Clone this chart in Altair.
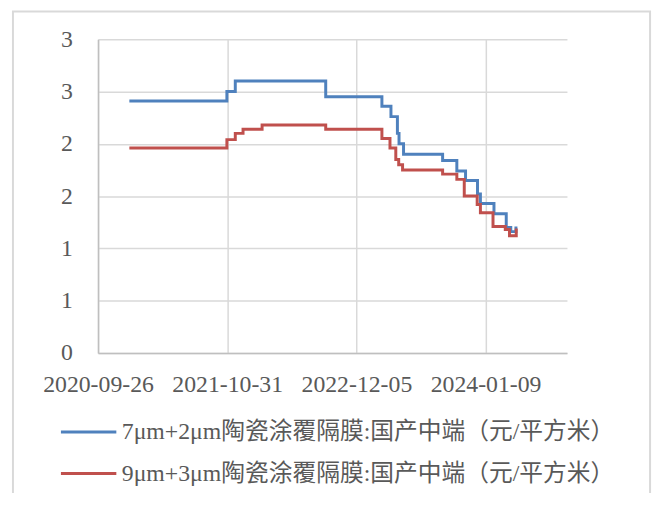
import altair as alt
import pandas as pd

series_names = [
    "7μm+2μm陶瓷涂覆隔膜:国产中端（元/平方米）",
    "9μm+3μm陶瓷涂覆隔膜:国产中端（元/平方米）",
]
series_colors = ["#4F81BD", "#C0504D"]

blue_dates = ["2021-01-01", "2021-10-30", "2021-11-25", "2022-09-01", "2023-02-22",
              "2023-03-22", "2023-04-11", "2023-04-16", "2023-04-30", "2023-08-29",
              "2023-10-12", "2023-11-08", "2023-12-15", "2023-12-24", "2024-02-04",
              "2024-03-13", "2024-03-27", "2024-04-12"]
blue_values = [2.41, 2.50, 2.60, 2.45, 2.36,
               2.26, 2.10, 2.00, 1.90, 1.84,
               1.74, 1.65, 1.52, 1.43, 1.33,
               1.20, 1.16, 1.21]

red_dates = ["2021-01-01", "2021-10-30", "2021-11-25", "2021-12-19", "2022-02-16",
             "2022-09-01", "2023-02-22", "2023-03-19", "2023-04-06", "2023-04-15",
             "2023-04-27", "2023-08-29", "2023-10-12", "2023-11-04", "2023-12-14",
             "2023-12-24", "2024-02-01", "2024-03-10", "2024-03-23", "2024-04-13"]
red_values = [1.96, 2.04, 2.10, 2.14, 2.18,
              2.14, 2.05, 1.96, 1.85, 1.80,
              1.75, 1.71, 1.66, 1.50, 1.42,
              1.34, 1.21, 1.18, 1.12, 1.19]

x_tick_dates = [(2020, 9, 26), (2021, 10, 31), (2022, 12, 5), (2024, 1, 9)]
x_domain = [(2020, 9, 26), (2024, 9, 17)]
y_ticks = [0, 0.5, 1, 1.5, 2, 2.5, 3]
y_tick_labels = ["0", "1", "1", "2", "2", "3", "3"]

rows = []
for d, v in zip(blue_dates, blue_values):
    rows.append({"date": d, "value": v, "series": series_names[0]})
for d, v in zip(red_dates, red_values):
    rows.append({"date": d, "value": v, "series": series_names[1]})
df = pd.DataFrame(rows)

def dt(t):
    return alt.DateTime(year=t[0], month=t[1], date=t[2], utc=True)

font = "Liberation Serif, Noto Sans CJK SC"
txt = "#595959"
grid = "#D9D9D9"
fs = 24

label_expr = "[" + ",".join("'" + s + "'" for s in y_tick_labels) + "][indexof([" + \
    ",".join(str(v) for v in y_ticks) + "], datum.value)]"

lines = alt.Chart(df).mark_line(interpolate="step-after", strokeWidth=3).encode(
    x=alt.X("date:T",
            scale=alt.Scale(type="utc", domain=[dt(x_domain[0]), dt(x_domain[1])]),
            axis=alt.Axis(values=[dt(t) for t in x_tick_dates], format="%Y-%m-%d",
                          title=None, grid=True, gridColor=grid, gridWidth=1.5,
                          ticks=False, tickSize=0, labelPadding=20,
                          labelFontSize=fs, labelFont=font, labelColor=txt,
                          domainColor="#BFBFBF", domainWidth=1.5,
                          labelOverlap=False, labelFlush=False)),
    y=alt.Y("value:Q",
            scale=alt.Scale(domain=[0, 3], nice=False, zero=True),
            axis=alt.Axis(values=y_ticks, labelExpr=label_expr, title=None,
                          grid=True, gridColor=grid, gridWidth=1.5,
                          ticks=False, tickSize=0, labelPadding=26,
                          labelFontSize=fs, labelFont=font, labelColor=txt,
                          domainColor="#BFBFBF", domainWidth=1.5,
                          labelOverlap=False, labelFlush=False)),
    color=alt.Color("series:N",
                    scale=alt.Scale(domain=series_names, range=series_colors),
                    legend=alt.Legend(title=None, orient="none", legendX=-39, legendY=385,
                                      direction="vertical", symbolType="stroke",
                                      symbolSize=3136, symbolStrokeWidth=3,
                                      clipHeight=fs, rowPadding=42 - fs, labelOffset=4,
                                      labelFontSize=fs, labelFont=font, labelColor=txt,
                                      labelLimit=0, padding=0)),
    detail="series:N",
)

border = alt.Chart(pd.DataFrame({"b": [0]})).mark_rect(
    fill=None, stroke="#D9D9D9", strokeWidth=2
).encode(
    x=alt.value(-86), x2=alt.value(558), y=alt.value(-28), y2=alt.value(520)
)

chart = alt.layer(border, lines).properties(
    width=474, height=317,
    autosize=alt.AutoSizeParams(type="none"),
    padding={"left": 91, "top": 29, "right": 90, "bottom": 139},
    background="white",
).configure_view(stroke=None)

chart.save("out.html", embed_options={"renderer": "svg", "actions": False})
